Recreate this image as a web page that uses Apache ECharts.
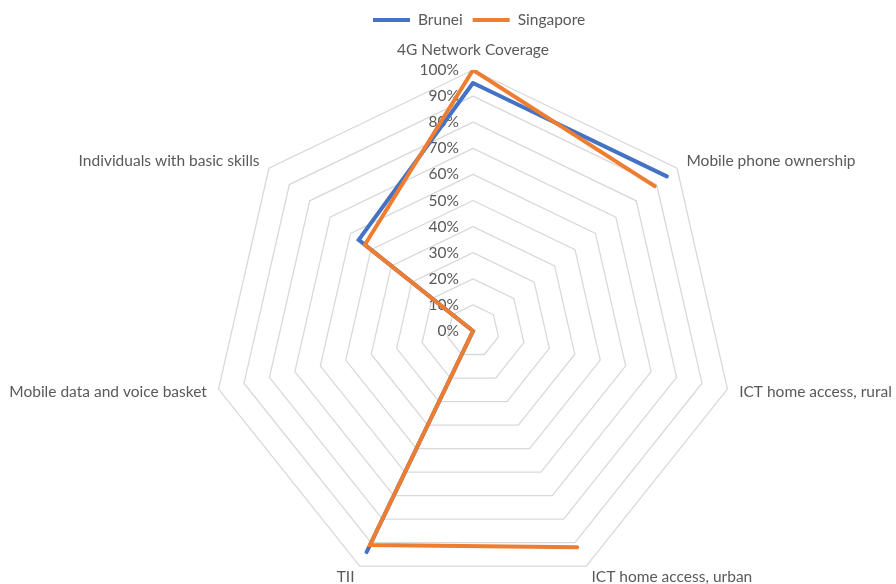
<!DOCTYPE html>
<html>
<head>
<meta charset="utf-8">
<script src="https://cdn.jsdelivr.net/npm/echarts@6/dist/echarts.min.js"></script>
<style>
  html, body { margin: 0; padding: 0; background: #ffffff; }
  #chart { width: 896px; height: 584px; }
</style>
</head>
<body>
<div id="chart"></div>
<script>
// Radar axes, clockwise from the top
const indicators = [
  '4G Network Coverage',
  'Mobile phone ownership',
  'ICT home access, rural',
  'ICT home access, urban',
  'TII',
  'Mobile data and voice basket',
  'Individuals with basic skills'
];

// Values in percent; null = no data (leaves a gap in the outline)
const brunei    = [95, 95, null, null, 94, 0, 56];
const singapore = [100, 89, null, 92, 91, 0, 53];

const seriesNames = ['Brunei', 'Singapore'];
const seriesColors = ['#4472C4', '#ED7D31'];

const center = [473, 331];
const radius = 261;
const textColor = '#595959';
const fontFamily = 'Lato, "Open Sans", sans-serif';
const fontSize = 15.5;

// Outline points as [radius, angleIndex]; the first point is repeated to close the shape
function toPolar(values) {
  const pts = values.map((v, i) => [v === null ? '-' : v, i]);
  pts.push([values[0] === null ? '-' : values[0], values.length]);
  return pts;
}

// The radar component lays its indicators out counter-clockwise,
// so keep the first one at the top and reverse the rest.
const radarOrder = [indicators[0]].concat(indicators.slice(1).reverse());

const chart = echarts.init(document.getElementById('chart'), null, { renderer: 'canvas' });

chart.setOption({
  backgroundColor: '#ffffff',
  animation: false,
  color: seriesColors,
  legend: {
    data: seriesNames,
    top: 7,
    left: 368,
    icon: 'rect',
    itemWidth: 37,
    itemHeight: 4,
    itemGap: 10,
    textStyle: { color: textColor, fontSize: fontSize, fontFamily: fontFamily, padding: [0, 0, 0, 3] }
  },
  radar: {
    center: center,
    radius: radius,
    startAngle: 90,
    shape: 'polygon',
    splitNumber: 10,
    nameGap: 12,
    axisName: { color: textColor, fontSize: fontSize, fontFamily: fontFamily },
    axisLine: { show: false },
    axisTick: { show: false },
    axisLabel: { show: false },
    splitArea: { show: false },
    splitLine: { lineStyle: { color: '#D9D9D9', width: 1.3 } },
    indicator: radarOrder.map(name => ({ name: name, min: 0, max: 100 }))
  },
  polar: {
    center: center,
    radius: radius
  },
  angleAxis: {
    type: 'value',
    min: 0,
    max: indicators.length,
    startAngle: 90,
    clockwise: true,
    show: false
  },
  radiusAxis: {
    type: 'value',
    min: 0,
    max: 100,
    interval: 10,
    axisLine: { show: false },
    axisTick: { show: false },
    splitLine: { show: false },
    axisLabel: {
      show: true,
      margin: 14,
      color: textColor,
      fontSize: fontSize,
      fontFamily: fontFamily,
      formatter: '{value}%'
    }
  },
  series: [
    {
      name: seriesNames[0],
      type: 'line',
      coordinateSystem: 'polar',
      data: toPolar(brunei),
      showSymbol: false,
      connectNulls: false,
      lineStyle: { width: 4, color: seriesColors[0], cap: 'round', join: 'miter' },
      z: 3
    },
    {
      name: seriesNames[1],
      type: 'line',
      coordinateSystem: 'polar',
      data: toPolar(singapore),
      showSymbol: false,
      connectNulls: false,
      lineStyle: { width: 4, color: seriesColors[1], cap: 'round', join: 'miter' },
      z: 4
    }
  ]
});
</script>
</body>
</html>
